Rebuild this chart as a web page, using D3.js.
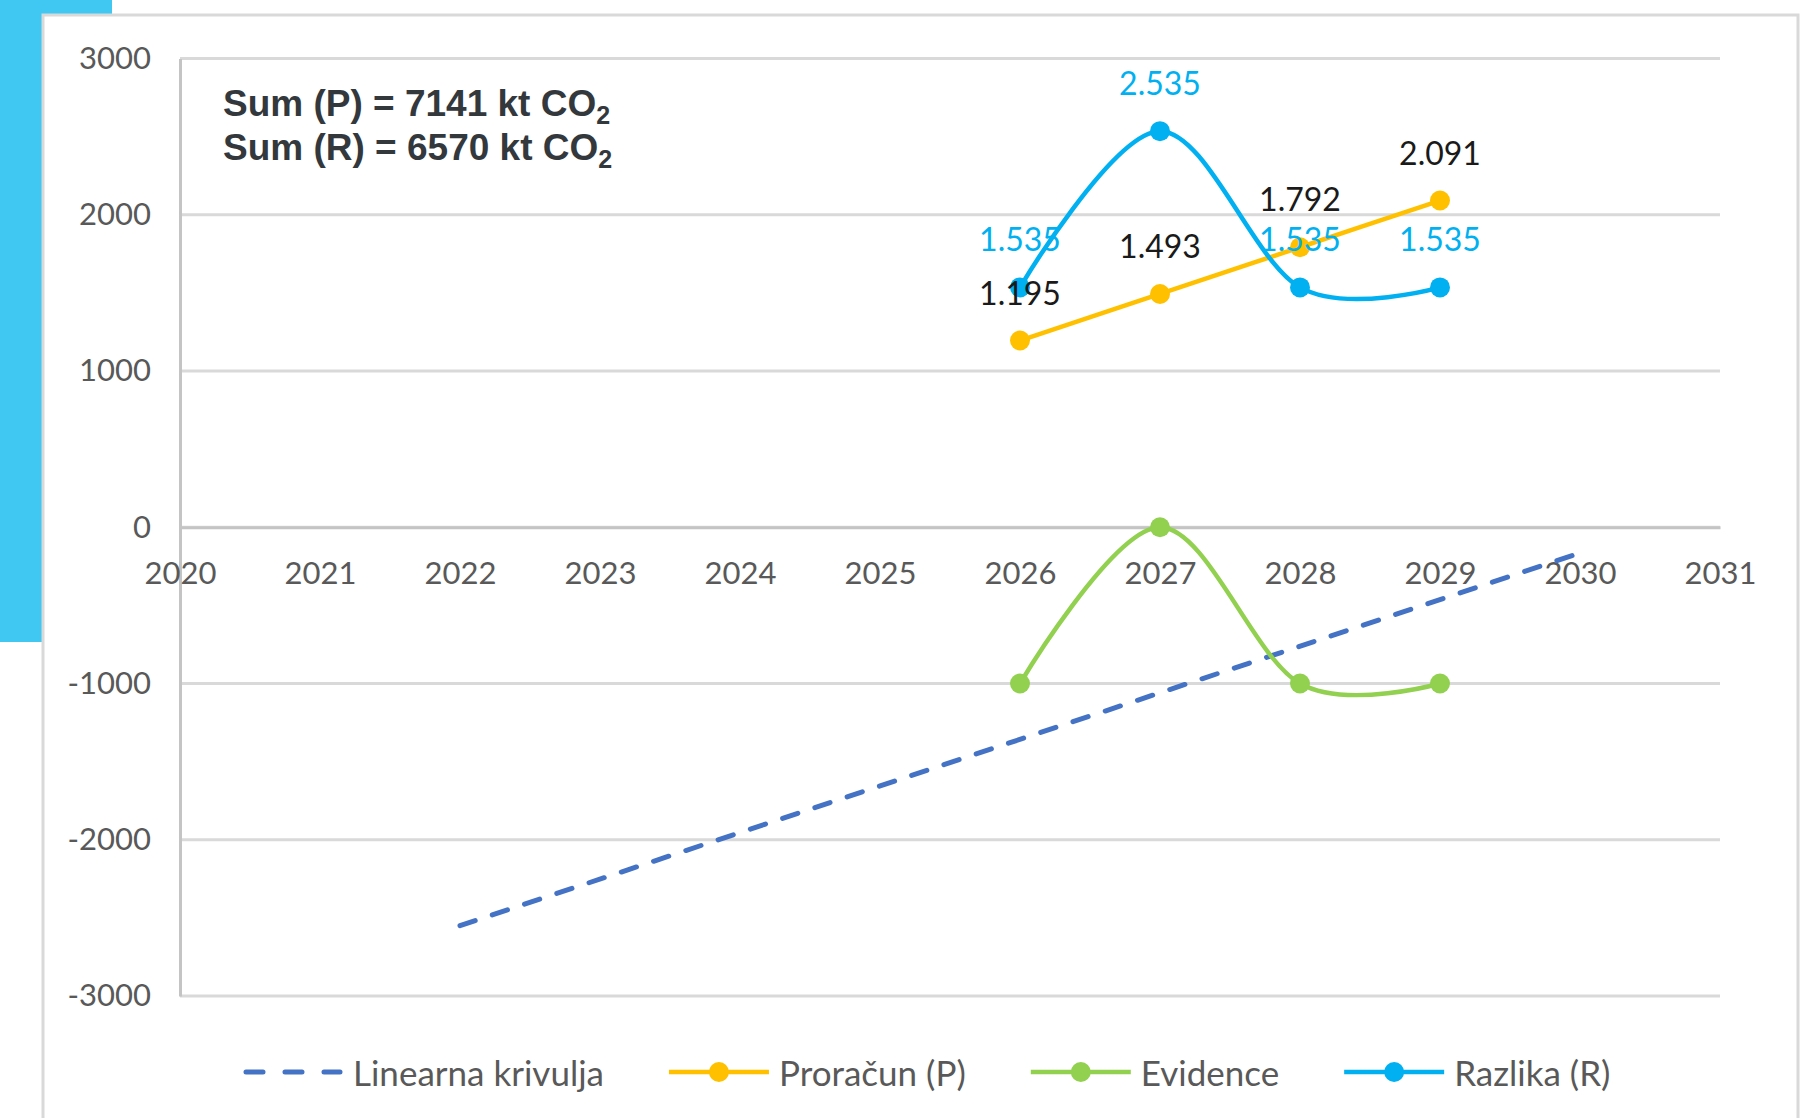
<!DOCTYPE html>
<html>
<head>
<meta charset="utf-8">
<script src="https://cdn.jsdelivr.net/npm/d3@7"></script>
<style>
  body { margin: 0; background: #fff; }
  svg { display: block; }
</style>
</head>
<body>
<div id="wrapper"></div>
<script>
// data
const years = [2026, 2027, 2028, 2029]
const axisYears = [2020, 2021, 2022, 2023, 2024, 2025, 2026, 2027, 2028, 2029, 2030, 2031]
const yTicks = [-3000, -2000, -1000, 0, 1000, 2000, 3000]
const proracun = [1195, 1493, 1792, 2091]
const evidence = [-1000, 0, -1000, -1000]
const razlika = [1535, 2535, 1535, 1535]
const trendYears = [2022, 2030]
const trendValues = [-2550, -165]
const sumLabels = ["Sum (P) = 7141 kt CO", "Sum (R) = 6570 kt CO"]
const legendNames = ["Linearna krivulja", "Proračun (P)", "Evidence", "Razlika (R)"]

window.addEventListener("load", paint)

function paint() {
    const dimensions = getDimensions()

    const svg = d3.select("#wrapper")
        .append("svg")
            .attr("width", dimensions.width)
            .attr("height", dimensions.height)

    // decoration + frame
    svg.append("rect").attr("x", 0).attr("y", 0).attr("width", 112).attr("height", 642).attr("fill", "#40c7f2")
    svg.append("rect")
        .attr("x", 43).attr("y", 15).attr("width", 1755).attr("height", 1130)
        .attr("fill", "#fff").attr("stroke", "#d9d9d9").attr("stroke-width", 3)

    const x = d3.scaleLinear()
        .domain([2020, 2031])
        .range([dimensions.margin.left, dimensions.width - dimensions.margin.right])
    const y = d3.scaleLinear()
        .domain([-3000, 3000])
        .range([dimensions.margin.top + dimensions.boundedHeight, dimensions.margin.top])

    svg.call(drawAxes, x, y)
    svg.call(drawSeries, x, y)
    svg.call(drawSums)
    svg.call(drawLegend)
}

function drawAxes(container, x, y) {
    container.append("g")
        .selectAll("line")
        .data(yTicks)
        .join("line")
            .attr("x1", x(2020)).attr("x2", x(2031))
            .attr("y1", d => y(d)).attr("y2", d => y(d))
            .attr("stroke", "#d9d9d9").attr("stroke-width", 3)

    const yAxis = container.append("g")
        .attr("transform", `translate(${x(2020)},0)`)
        .call(d3.axisLeft(y).tickValues(yTicks).tickFormat(d => String(d)).tickSize(0).tickPadding(29))
    yAxis.select(".domain").attr("stroke", "#c4c4c4").attr("stroke-width", 3)
    yAxis.selectAll("text")
        .attr("font-family", "Lato, sans-serif").attr("font-size", 31).attr("fill", "#595959")

    const xAxis = container.append("g")
        .attr("transform", `translate(0,${y(0)})`)
        .call(d3.axisBottom(x).tickValues(axisYears).tickFormat(d => String(d)).tickSize(0).tickPadding(35))
    xAxis.select(".domain").attr("stroke", "#c4c4c4").attr("stroke-width", 3)
    xAxis.selectAll("text")
        .attr("font-family", "Lato, sans-serif").attr("font-size", 31).attr("fill", "#595959")
}

function drawSeries(container, x, y) {
    const fmt = d3.formatLocale({ decimal: ",", thousands: ".", grouping: [3], currency: ["", ""] }).format(",")
    const smooth = d3.line().x(d => x(d[0])).y(d => y(d[1])).curve(d3.curveCatmullRom.alpha(0))
    const straight = d3.line().x(d => x(d[0])).y(d => y(d[1]))

    container.append("path")
        .attr("d", straight(d3.zip(trendYears, trendValues)))
        .attr("fill", "none").attr("stroke", "#4472c4").attr("stroke-width", 5)
        .attr("stroke-dasharray", "16,18").attr("stroke-linecap", "round")

    const series = [
        { values: proracun, color: "#ffc000", label: "#1a1a1a" },
        { values: evidence, color: "#92d050", label: null },
        { values: razlika, color: "#00b0f0", label: "#00b0f0" }
    ]

    series.forEach(s => {
        const pts = d3.zip(years, s.values)
        container.append("path")
            .attr("d", smooth(pts))
            .attr("fill", "none").attr("stroke", s.color).attr("stroke-width", 4.5)
        container.append("g")
            .selectAll("circle")
            .data(pts)
            .join("circle")
                .attr("cx", d => x(d[0])).attr("cy", d => y(d[1])).attr("r", 10)
                .attr("fill", s.color)
    })

    series.filter(s => s.label).forEach(s => {
        container.append("g")
            .selectAll("text")
            .data(d3.zip(years, s.values))
            .join("text")
                .attr("x", d => x(d[0])).attr("y", d => y(d[1]) - 36)
                .attr("text-anchor", "middle")
                .attr("font-family", "Lato, sans-serif").attr("font-size", 32)
                .attr("fill", s.label)
                .text(d => fmt(d[1]))
    })
}

function drawSums(container) {
    const t = container.append("g")
        .attr("font-family", "'Liberation Sans', Arial, sans-serif")
        .attr("font-weight", "bold").attr("fill", "#33383d")
    sumLabels.forEach((s, i) => {
        const txt = t.append("text").attr("x", 223).attr("y", 116 + i * 44).attr("font-size", 37)
        txt.append("tspan").text(s)
        txt.append("tspan").attr("font-size", 25).attr("dy", 8).text("2")
    })
}

function drawLegend(container) {
    const colors = ["#4472c4", "#ffc000", "#92d050", "#00b0f0"]
    const legendY = 1072
    let cx = 243
    legendNames.forEach((name, i) => {
        const g = container.append("g")
        const line = g.append("line")
            .attr("x1", cx).attr("x2", cx + 100).attr("y1", legendY).attr("y2", legendY)
            .attr("stroke", colors[i]).attr("stroke-width", i === 0 ? 5 : 4.5)
        if (i === 0) {
            line.attr("stroke-dasharray", "17,22").attr("stroke-linecap", "round")
                .attr("x1", cx + 3).attr("x2", cx + 97)
        } else {
            g.append("circle").attr("cx", cx + 50).attr("cy", legendY).attr("r", 10).attr("fill", colors[i])
        }
        const label = g.append("text")
            .attr("x", cx + 110).attr("y", legendY)
            .attr("dominant-baseline", "central")
            .attr("font-family", "Lato, sans-serif").attr("font-size", 35).attr("fill", "#595959")
            .text(name)
        cx += 110 + label.node().getComputedTextLength() + 65
    })
}

function getDimensions() {
    let dimensions = {
        width: 1814,
        height: 1118,
        margin: {
            top: 58.5,
            right: 94,
            bottom: 122,
            left: 180,
        },
    }

    return {
        ...dimensions,
        boundedWidth: dimensions.width - dimensions.margin.left - dimensions.margin.right,
        boundedHeight: dimensions.height - dimensions.margin.top - dimensions.margin.bottom
    }
}
</script>
</body>
</html>
